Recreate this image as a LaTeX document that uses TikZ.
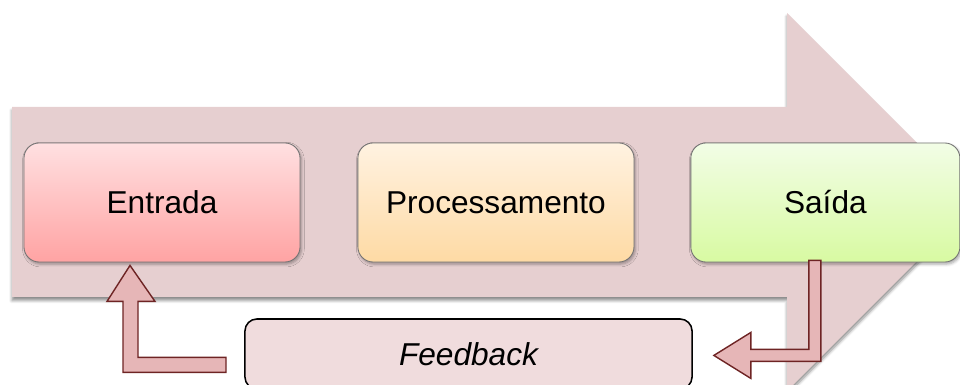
\documentclass[tikz,border=0pt]{standalone}
\usepackage{fontspec}
\setmainfont{Liberation Sans}
\usetikzlibrary{calc,positioning,shadows.blur}

\definecolor{flowbg}{HTML}{E6CFD0}
\definecolor{loopfill}{HTML}{E6B6B7}
\definecolor{loopline}{HTML}{6E2424}
\definecolor{fbfill}{HTML}{F0DCDD}
\definecolor{intop}{HTML}{FFE0E1}
\definecolor{inbot}{HTML}{FFA3A3}
\definecolor{proctop}{HTML}{FFF2E1}
\definecolor{procbot}{HTML}{FEDAA4}
\definecolor{outtop}{HTML}{F2FDE6}
\definecolor{outbot}{HTML}{D8FAA2}

\tikzset{
    stage/.style={rectangle, rounded corners=0.38cm, draw=black!55, line width=0.6pt,
        minimum width=6.9cm, minimum height=2.975cm,
        font=\fontsize{22.5}{27}\selectfont,
        blur shadow={shadow xshift=1pt, shadow yshift=-1.5pt, shadow opacity=35, shadow blur radius=2pt}},
    looparrow/.style={fill=loopfill, draw=loopline, line width=1pt, line join=miter}
}

\begin{document}
\begin{tikzpicture}[x=0.025cm, y=0.025cm]

\useasboundingbox (0,0) rectangle (960,385);
\clip (0,0) rectangle (960,385);

% Big flow arrow
\fill[flowbg, blur shadow={shadow xshift=0pt, shadow yshift=-2.5pt, shadow opacity=45}]
    (12,278) -- (787,278) -- (787,372) -- (976,183) -- (787,-6) -- (787,88) -- (12,88) -- cycle;

% Stages
\node[stage, top color=intop, bottom color=inbot] (entrada) at (162,182.5) {Entrada};
\node[stage, top color=proctop, bottom color=procbot, right=1.425cm of entrada] (proc) {Processamento};
\node[stage, top color=outtop, bottom color=outbot, minimum width=6.725cm, right=1.4cm of proc] (saida) {Saída};

% Feedback box
\node[draw=black, line width=1.1pt, rounded corners=0.3cm, fill=fbfill,
    minimum width=11.175cm, minimum height=1.75cm,
    font=\fontsize{22.5}{27}\selectfont\itshape] (feedback) at (468.5,31) {Feedback};

% Saida -> Feedback
\draw[looparrow] ($(saida.south)+(-16.5,2)$) -- ++(12,0) -- ++(0,-101) -- ++(-70,0)
    -- ++(0,-17) -- ++(-37,23) -- ++(37,23) -- ++(0,-17) -- ++(58,0) -- cycle;

% Feedback -> Entrada
\draw[looparrow] ($(entrada.south)+(-32,-3)$) -- ++(25,-36) -- ++(-17,0) -- ++(0,-56)
    -- ++(88,0) -- ++(0,-15) -- ++(-103,0) -- ++(0,71) -- ++(-16,0) -- cycle;

\end{tikzpicture}
\end{document}
